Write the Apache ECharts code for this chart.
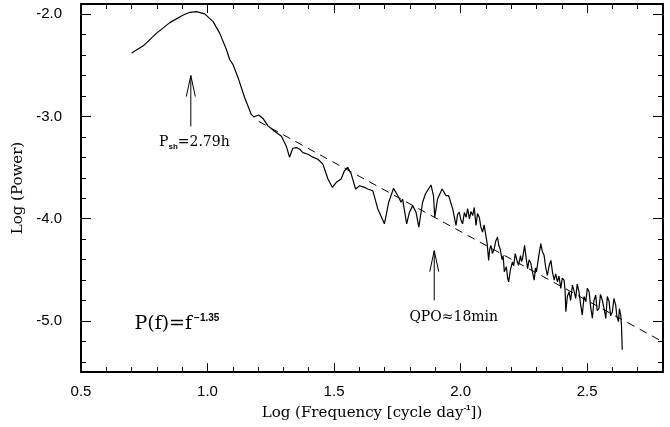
<!DOCTYPE html>
<html><head><meta charset="utf-8">
<script src="https://cdn.jsdelivr.net/npm/echarts@6/dist/echarts.min.js"></script>
<style>html,body{margin:0;padding:0;background:#fff}#c{width:670px;height:427px}</style>
</head><body><div id="c"></div><script>
// ---- data ----
const xTicksMajor = [0.5, 1.0, 1.5, 2.0, 2.5];
const xTicksMinor = [0.6,0.7,0.8,0.9,1.1,1.2,1.3,1.4,1.6,1.7,1.8,1.9,2.1,2.2,2.3,2.4,2.6,2.7];
const yTicksMajor = [-5, -4, -3, -2];
const yTicksMinor = [-5.4,-5.2,-4.8,-4.6,-4.4,-4.2,-3.8,-3.6,-3.4,-3.2,-2.8,-2.6,-2.4,-2.2];

const logFreq = [0.700,0.746,0.799,0.851,0.904,0.930,0.956,0.989,1.022,1.048,1.075,1.088,1.101,1.121,1.147,1.173,1.183,1.202,1.219,1.239,1.265,1.292,1.311,1.324,1.337,1.353,1.364,1.377,1.397,1.416,1.436,1.456,1.476,1.493,1.509,1.528,1.541,1.554,1.568,1.585,1.601,1.620,1.633,1.653,1.673,1.699,1.716,1.735,1.752,1.765,1.771,1.787,1.798,1.811,1.824,1.835,1.850,1.861,1.883,1.893,1.898,1.909,1.927,1.943,
  1.953,1.961,1.969,1.975,1.982,1.988,1.995,2.001,2.008,2.015,2.022,2.028,2.035,2.041,2.048,2.054,2.061,2.067,2.074,2.080,
  2.087,2.093,2.100,2.105,2.111,2.115,2.120,2.126,2.133,2.139,2.146,2.151,2.156,2.164,2.168,2.173,2.181,2.186,2.190,2.197,
  2.205,2.210,2.216,2.222,2.229,2.237,2.241,2.245,2.253,2.259,2.265,2.271,2.278,2.284,2.291,2.296,2.300,2.308,2.317,2.323,
  2.330,2.336,2.343,2.350,2.357,2.363,2.370,2.376,2.383,2.389,2.396,2.402,2.409,2.413,2.416,2.422,2.429,2.435,2.442,2.448,
  2.455,2.461,2.468,2.474,2.481,2.488,2.495,2.501,2.508,2.514,2.521,2.527,2.534,2.540,2.547,2.553,2.560,2.567,2.574,2.580,
  2.587,2.593,2.600,2.606,2.613,2.618,2.624,2.628,2.633,2.636,2.639];
const logPower = [-2.380,-2.309,-2.185,-2.082,-2.007,-1.981,-1.975,-1.997,-2.072,-2.185,-2.347,-2.445,-2.493,-2.623,-2.817,-2.980,-3.004,-2.985,-3.019,-3.092,-3.145,-3.194,-3.288,-3.398,-3.311,-3.304,-3.320,-3.354,-3.369,-3.398,-3.418,-3.466,-3.612,-3.693,-3.644,-3.612,-3.531,-3.498,-3.563,-3.709,-3.677,-3.693,-3.709,-3.726,-3.904,-4.050,-3.839,-3.703,-3.775,-3.839,-3.807,-4.050,-3.936,-3.872,-3.936,-4.082,-3.839,-3.758,-3.670,-3.775,-3.985,-3.807,-3.709,-3.775,
  -3.775,-3.840,-3.904,-3.980,-4.066,-3.960,-3.936,-4.010,-4.050,-3.940,-3.985,-3.900,-4.001,-3.930,-3.969,-3.890,-4.066,-3.950,-3.985,-4.080,
  -4.131,-4.060,-4.164,-4.240,-4.407,-4.300,-4.261,-4.340,-4.293,-4.220,-4.179,-4.260,-4.293,-4.400,-4.360,-4.520,-4.470,-4.580,-4.617,-4.500,
  -4.422,-4.460,-4.342,-4.400,-4.456,-4.360,-4.420,-4.390,-4.261,-4.380,-4.488,-4.400,-4.439,-4.520,-4.601,-4.480,-4.520,-4.380,-4.244,-4.320,
  -4.358,-4.470,-4.553,-4.460,-4.407,-4.520,-4.601,-4.540,-4.617,-4.560,-4.682,-4.580,-4.601,-4.700,-4.909,-4.760,-4.714,-4.800,-4.650,-4.700,
  -4.779,-4.640,-4.714,-4.830,-4.942,-4.760,-4.811,-4.680,-4.714,-4.860,-4.974,-4.800,-4.747,-4.900,-4.877,-4.740,-4.796,-4.880,-4.974,-4.760,
  -4.811,-4.950,-4.909,-4.780,-4.845,-4.960,-5.006,-4.880,-4.942,-5.050,-5.282];

const fitLine = [[1.202, -3.048], [2.8, -5.205]];
const arrowBase = [[0.934, -3.097], [1.896, -4.799]];
const arrowTip  = [[0.934, -2.600], [1.896, -4.312]];
const labelPos  = [[0.948, -3.252], [1.973, -4.964], [0.879, -5.032]];
const labelText = ['{t|P}{s|sh}{t|=2.79h}', '{t|QPO\u224818min}', '{b|P(f)=f}{p|\u22121.35}'];

// ---- chart ----
const SANS = '"Liberation Sans", Arial, sans-serif';
const SERIF = '"DejaVu Serif", serif';
const chart = echarts.init(document.getElementById('c'), null, {renderer: 'canvas'});

function axis(kind, pos, ticks, len, withLine, labels) {
  const a = {
    type: 'value', position: pos,
    min: kind === 'x' ? 0.5 : -5.5, max: kind === 'x' ? 2.8 : -1.9,
    axisLine: {show: withLine, onZero: false, lineStyle: {color: '#000', width: 2}},
    axisTick: {show: true, inside: true, length: len, customValues: ticks, lineStyle: {color: '#000', width: 1}},
    axisLabel: {show: !!labels},
    splitLine: {show: false}
  };
  if (labels) {
    a.axisLabel = {show: true, customValues: labels, formatter: v => v.toFixed(1),
      margin: kind === 'x' ? 12 : 19, color: '#000', fontFamily: SANS, fontSize: 15};
  }
  return a;
}

const xAxes = [
  axis('x', 'bottom', xTicksMajor, 9, true, xTicksMajor),
  axis('x', 'bottom', xTicksMinor, 5, false),
  axis('x', 'top', xTicksMajor, 9, true),
  axis('x', 'top', xTicksMinor, 5, false)
];
Object.assign(xAxes[0], {
  name: 'Log (Frequency [cycle day{s|-1}])', nameLocation: 'middle', nameGap: 30,
  nameTextStyle: {fontFamily: SERIF, fontSize: 15, color: '#000', lineHeight: 18,
    rich: {s: {fontFamily: SANS, fontSize: 8, fontWeight: 'bold', verticalAlign: 'top', lineHeight: 10}}}
});
const yAxes = [
  axis('y', 'left', yTicksMajor, 10, true, yTicksMajor),
  axis('y', 'left', yTicksMinor, 5, false),
  axis('y', 'right', yTicksMajor, 10, true),
  axis('y', 'right', yTicksMinor, 5, false)
];
Object.assign(yAxes[0], {
  name: 'Log (Power)', nameLocation: 'middle', nameRotate: 90, nameGap: 53,
  nameTextStyle: {fontFamily: SERIF, fontSize: 15, color: '#000'}
});

const richLabels = {
  t: {fontFamily: SERIF, fontSize: 14, color: '#000', lineHeight: 18, verticalAlign: 'middle'},
  s: {fontFamily: SANS, fontSize: 8, fontWeight: 'bold', color: '#000', lineHeight: 8, verticalAlign: 'bottom'},
  b: {fontFamily: SERIF, fontSize: 19, color: '#000', lineHeight: 22, verticalAlign: 'middle'},
  p: {fontFamily: SANS, fontSize: 10, fontWeight: 'bold', color: '#000', lineHeight: 10, verticalAlign: 'top', padding: [0, 0, 0, 2]}
};

chart.setOption({
  animation: false,
  backgroundColor: '#fff',
  grid: {left: 81, right: 7, top: 4, bottom: 53, containLabel: false},
  xAxis: xAxes,
  yAxis: yAxes,
  series: [
    {
      type: 'line', xAxisIndex: 0, yAxisIndex: 0, showSymbol: false, silent: true,
      data: fitLine, lineStyle: {color: '#000', width: 1, type: [8, 6]}, z: 2
    },
    {
      type: 'line', xAxisIndex: 0, yAxisIndex: 0, showSymbol: false, silent: true,
      data: logFreq.map((x, i) => [x, logPower[i]]),
      lineStyle: {color: '#000', width: 1.2}, z: 3
    },
    {
      type: 'custom', xAxisIndex: 0, yAxisIndex: 0, silent: true, z: 4,
      data: arrowTip,
      renderItem: function (params, api) {
        const i = params.dataIndex;
        const tip = api.coord(arrowTip[i]);
        const base = api.coord(arrowBase[i]);
        const st = {stroke: '#000', lineWidth: 1, fill: null};
        return {type: 'group', children: [
          {type: 'line', shape: {x1: base[0], y1: base[1], x2: tip[0], y2: tip[1]}, style: st},
          {type: 'polyline', shape: {points: [[tip[0] - 4.5, tip[1] + 21], [tip[0], tip[1]], [tip[0] + 4.5, tip[1] + 21]]}, style: st}
        ]};
      }
    },
    {
      type: 'custom', xAxisIndex: 0, yAxisIndex: 0, silent: true, z: 4,
      data: labelPos,
      renderItem: function (params, api) {
        const p = api.coord(labelPos[params.dataIndex]);
        return {type: 'text', x: p[0], y: p[1],
          style: {text: labelText[params.dataIndex], align: 'center', verticalAlign: 'middle', rich: richLabels}};
      }
    }
  ]
});
</script></body></html>
